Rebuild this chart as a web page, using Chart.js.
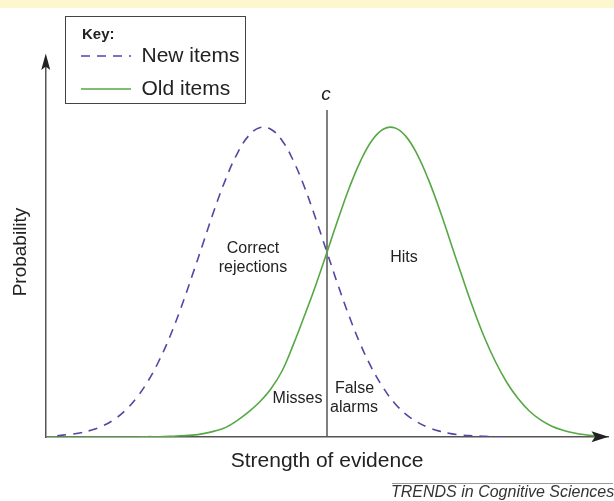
<!DOCTYPE html>
<html>
<head>
<meta charset="utf-8">
<script src="https://cdn.jsdelivr.net/npm/chart.js@4"></script>
<style>
html,body{margin:0;padding:0;background:#fff;}
#wrap{width:614px;height:501px;position:relative;}
</style>
</head>
<body>
<div id="wrap"><canvas id="chart" width="614" height="501"></canvas></div>
<script>
// ---- data ----
const evidence = [0,2,4,6,8,10,12,14,16,18,20,22,24,26,28,30,32,34,36,38,40,42,44,46,48,50,52,54,56,58,60,62,64,66,68,70,72,74,76,78,80,82,84,86,88,90,92,94,96,98,100];
const newItems = [null,0.004,0.008,0.013,0.022,0.035,0.055,0.084,0.124,0.176,0.242,0.322,0.416,0.520,0.628,0.736,0.833,0.914,0.971,0.998,0.993,0.957,0.892,0.806,0.704,0.596,0.488,0.387,0.297,0.221,0.159,0.110,0.074,0.049,0.031,0.019,0.011,0.006,0.004,0.002,0.001,0.000,null,null,null,null,null,null,null,null,null];
const oldItems = [0.000,0.000,0.000,0.000,0.000,0.000,0.000,0.000,0.000,0.001,0.001,0.002,0.004,0.006,0.011,0.019,0.031,0.053,0.080,0.113,0.155,0.213,0.298,0.392,0.490,0.596,0.704,0.806,0.892,0.957,0.993,0.998,0.971,0.914,0.833,0.736,0.628,0.520,0.416,0.322,0.242,0.176,0.124,0.084,0.055,0.035,0.022,0.013,0.007,0.003,null];
const seriesNames = ['New items', 'Old items'];
const criterion = 50;          // position of c on the evidence axis
const criterionTop = 1.055;    // height the c line reaches
const axisTitles = {x: 'Strength of evidence', y: 'Probability'};
const criterionLabel = 'c';
const legendTitle = 'Key:';
const footer = 'TRENDS in Cognitive Sciences';

const FONT = "'Liberation Sans', Arial, Helvetica, sans-serif";
Chart.defaults.font.family = FONT;
Chart.defaults.color = '#222';

const NEW_COLOR = '#5247a2';
const OLD_COLOR = '#55a843';
const AXIS_COLOR = '#555';

const decor = {
  id: 'decor',
  beforeDraw(chart) {
    const ctx = chart.ctx;
    ctx.save();
    ctx.fillStyle = '#ffffff';
    ctx.fillRect(0, 0, chart.width, chart.height);
    ctx.fillStyle = '#fdf7cf';
    ctx.fillRect(0, 0, chart.width, 8);
    ctx.restore();
  },
  afterLayout(chart) {
    const lg = chart.legend;
    if (!lg) return;
    lg.left = 69; lg.top = 33.5;
    lg.right = 69 + 190; lg.bottom = 33.5 + 120;
  },
  afterDraw(chart) {
    const {ctx, chartArea: a, scales} = chart;
    const xs = scales.x;
    ctx.save();
    const ax = a.left - 0.25;
    const ay = a.bottom - 0.25;
    // y axis extension + arrow
    ctx.strokeStyle = AXIS_COLOR; ctx.lineWidth = 1.5;
    ctx.beginPath(); ctx.moveTo(ax, a.top + 1); ctx.lineTo(ax, 60); ctx.stroke();
    ctx.fillStyle = '#222';
    ctx.beginPath();
    ctx.moveTo(ax, 53.5); ctx.lineTo(ax + 4.5, 70); ctx.lineTo(ax, 66.5); ctx.lineTo(ax - 4.5, 70);
    ctx.closePath(); ctx.fill();
    // x axis arrow
    const tip = 608.5;
    ctx.beginPath();
    ctx.moveTo(tip, ay); ctx.lineTo(tip - 17, ay - 5.5); ctx.lineTo(tip - 13.5, ay); ctx.lineTo(tip - 17, ay + 5.5);
    ctx.closePath(); ctx.fill();

    // legend frame + key title
    ctx.strokeStyle = '#444'; ctx.lineWidth = 1;
    ctx.strokeRect(65.5, 16.5, 180, 87);
    ctx.fillStyle = '#222';
    ctx.font = 'bold 15px ' + FONT;
    ctx.textAlign = 'left'; ctx.textBaseline = 'middle';
    ctx.fillText(legendTitle, 82, 35);

    // criterion label
    ctx.font = 'italic 19px ' + FONT;
    ctx.textAlign = 'center';
    ctx.fillText(criterionLabel, xs.getPixelForValue(criterion) - 1, 95);

    // region annotations
    ctx.font = '16px ' + FONT;
    ctx.fillText('Correct', 253, 249);
    ctx.fillText('rejections', 253, 268);
    ctx.fillText('Hits', 404, 258);
    ctx.fillText('Misses', 297.5, 399);
    ctx.fillText('False', 354.5, 389);
    ctx.fillText('alarms', 354, 408);

    // footer
    ctx.strokeStyle = '#999'; ctx.lineWidth = 1;
    ctx.beginPath(); ctx.moveTo(392, 483.5); ctx.lineTo(613, 483.5); ctx.stroke();
    ctx.fillStyle = '#333';
    ctx.font = 'italic 16px ' + FONT;
    ctx.textAlign = 'left';
    ctx.fillText(footer, 391, 493);
    ctx.restore();
  }
};

const toPoints = arr => evidence.map((x, i) => ({x: x, y: arr[i]}));

new Chart(document.getElementById('chart'), {
  type: 'line',
  data: {
    datasets: [
      {
        label: seriesNames[0],
        data: toPoints(newItems),
        borderColor: NEW_COLOR,
        backgroundColor: 'transparent',
        borderWidth: 1.6,
        borderDash: [9, 7],
        borderDashOffset: 0,
        pointRadius: 0,
        fill: false,
        tension: 0.4,
        spanGaps: false
      },
      {
        label: seriesNames[1],
        data: toPoints(oldItems),
        borderColor: OLD_COLOR,
        backgroundColor: 'transparent',
        borderWidth: 1.6,
        pointRadius: 0,
        fill: false,
        tension: 0.4,
        spanGaps: false
      },
      {
        label: criterionLabel,
        data: [{x: criterion, y: 0}, {x: criterion, y: criterionTop}],
        borderColor: '#555',
        backgroundColor: 'transparent',
        borderWidth: 1.5,
        pointRadius: 0,
        fill: false
      }
    ]
  },
  options: {
    responsive: false,
    animation: false,
    devicePixelRatio: 1,
    layout: {padding: {left: 0, right: 6, top: 67, bottom: 0}},
    plugins: {
      tooltip: {enabled: false},
      legend: {
        display: true,
        position: 'chartArea',
        align: 'start',
        labels: {
          usePointStyle: true,
          pointStyle: 'line',
          pointStyleWidth: 50,
          padding: 12,
          color: '#222',
          font: {size: 21},
          generateLabels(chart) {
            return chart.data.datasets.slice(0, 2).map((ds, i) => ({
              text: ds.label,
              fillStyle: 'transparent',
              strokeStyle: ds.borderColor,
              lineWidth: ds.borderWidth,
              lineDash: ds.borderDash || [],
              lineDashOffset: 0,
              lineCap: 'butt',
              pointStyle: 'line',
              hidden: false,
              fontColor: '#222',
              datasetIndex: i
            }));
          }
        }
      }
    },
    scales: {
      x: {
        type: 'linear', min: 0, max: 100, position: 'bottom',
        grid: {display: false},
        ticks: {display: false},
        border: {display: true, color: AXIS_COLOR, width: 1.5},
        title: {display: true, text: axisTitles.x, color: '#222', font: {size: 21}, padding: {top: 0, bottom: 27}},
        afterFit(s) { s.height = 64; }
      },
      y: {
        type: 'linear', min: 0, max: 1.194, position: 'left',
        grid: {display: false},
        ticks: {display: false},
        border: {display: true, color: AXIS_COLOR, width: 1.5},
        title: {display: true, text: axisTitles.y, color: '#222', font: {size: 19}, padding: {top: 9, bottom: 0}},
        afterFit(s) { s.width = 46; }
      }
    }
  },
  plugins: [decor]
});
</script>
</body>
</html>
